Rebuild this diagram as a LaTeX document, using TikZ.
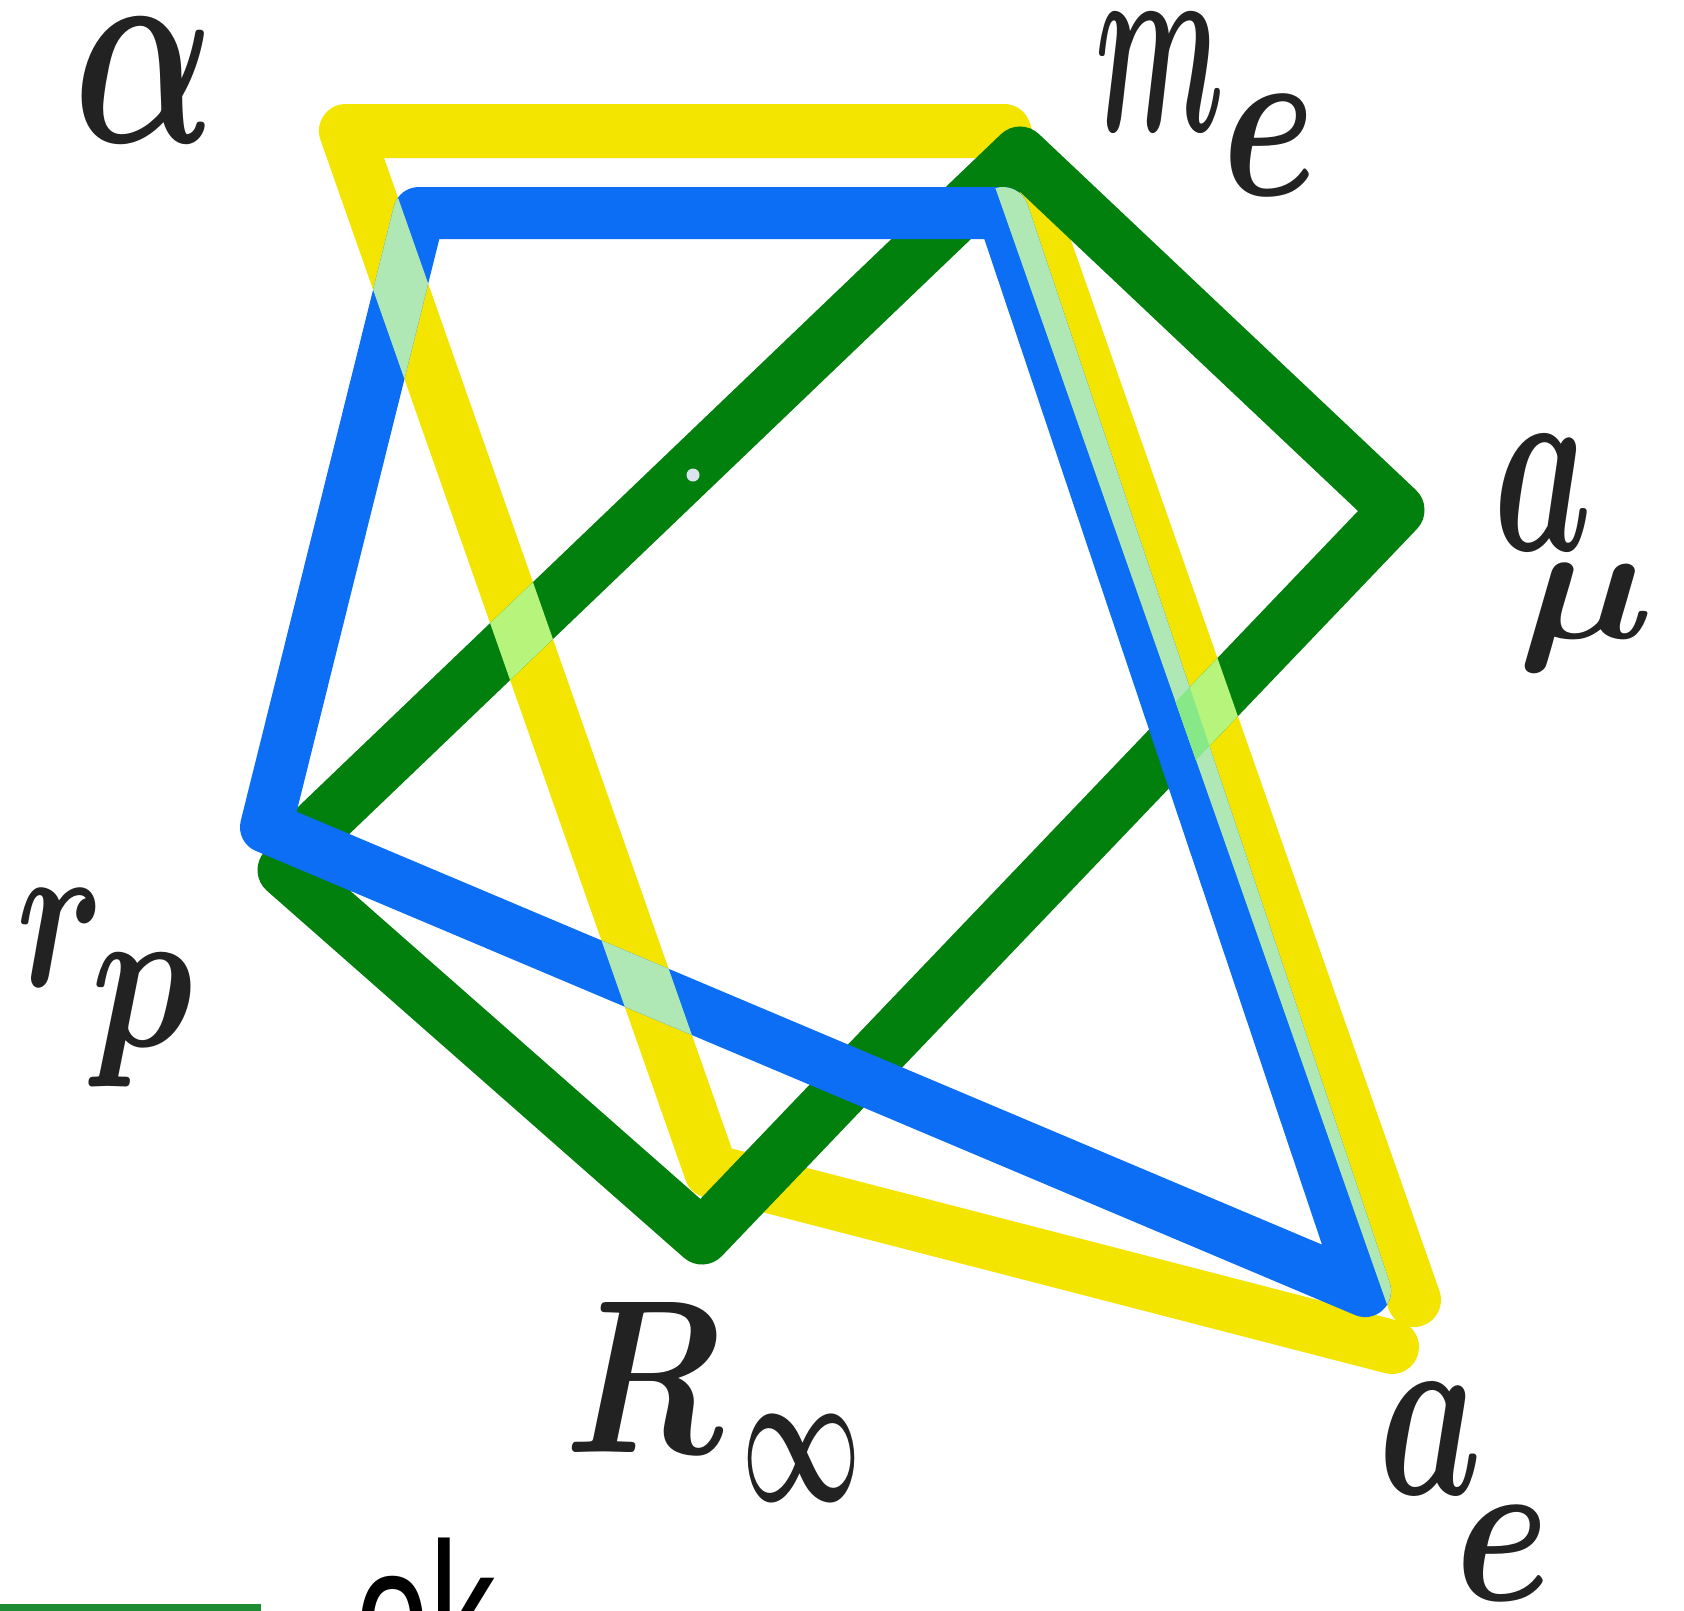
\documentclass[tikz,border=0pt]{standalone}
\usepackage{amsmath}
\usepackage{graphicx}
\usepackage{fontspec}
\usetikzlibrary{calc}
\newfontfamily\oksans{Liberation Sans}
\definecolor{hlyellow}{HTML}{F4E500}
\definecolor{hlblue}{HTML}{0B6EF4}
\definecolor{hlgreen}{HTML}{02800E}
\definecolor{mixyb}{HTML}{AFE8B4}
\definecolor{mixyg}{HTML}{B6F47C}
\definecolor{mixybg}{HTML}{86E886}
\definecolor{ink}{HTML}{222222}
\definecolor{okgreen}{HTML}{1E8C32}
\definecolor{dotgray}{HTML}{DCE2EE}
% clip to the body of the thick stroke from #1 to #2, half width #3
\newcommand{\clipseg}[3]{\clip ($(#1)!#3!90:(#2)$) -- ($(#2)!#3!-90:(#1)$) -- ($(#2)!#3!90:(#1)$) -- ($(#1)!#3!-90:(#2)$) -- cycle;}
\newcommand{\mixpatch}[6]{\begin{scope}\clipseg{#1}{#2}{#3}\draw[#6] (#4) -- (#5);\end{scope}}
\tikzset{
  hl/.style={line width=#1, line cap=round, line join=round},
  ylw/.style={hl=54pt, draw=hlyellow},
  blu/.style={hl=52pt, draw=hlblue},
  grn/.style={hl=55pt, draw=hlgreen},
  handlabel/.style={anchor=base west, inner sep=0pt, text=ink},
}
\begin{document}
\begin{tikzpicture}[x=1pt,y=-1pt]
\useasboundingbox (0,0) rectangle (1684,1610);
\fill[white] (0,0) rectangle (1684,1610);
% vertices
\coordinate (YTL) at (346,131);
\coordinate (YTR) at (1004,131);
\coordinate (YRe) at (1414,1300);
\coordinate (YBL) at (711,1171);
\coordinate (YBe) at (1392,1347);
\coordinate (BTL) at (419,213);
\coordinate (BTR) at (1003,213);
\coordinate (BBR) at (1365,1291);
\coordinate (BBL) at (266,827);
\coordinate (GT) at (1020,154);
\coordinate (GR) at (1397,510);
\coordinate (GB) at (702,1237);
\coordinate (GL1) at (297,846);
\coordinate (GL2) at (285,870);
% base strokes
\draw[ylw] (YRe) -- (YTR) -- (YTL) -- (YBL) -- (YBe);
\draw[grn] (GL1) -- (GT) -- (GR) -- (GB) -- (GL2);
\draw[blu] (BTL) -- (BTR) -- (BBR) -- (BBL) -- cycle;
% overlaps
\mixpatch{YTL}{YBL}{27pt}{GL1}{GT}{grn,draw=mixyg}
\mixpatch{YTL}{YBL}{27pt}{BTL}{BBL}{blu,draw=mixyb}
\mixpatch{YTL}{YBL}{27pt}{BBL}{BBR}{blu,draw=mixyb}
\mixpatch{YTR}{YRe}{27pt}{GR}{GB}{grn,draw=mixyg}
\mixpatch{YTR}{YRe}{27pt}{BTR}{BBR}{blu,draw=mixyb}
\begin{scope}
  \clipseg{YTR}{YRe}{27pt}
  \clipseg{BTR}{BBR}{26pt}
  \draw[grn,draw=mixybg] (GR) -- (GB);
\end{scope}
% dot
\coordinate (dot) at (693,475);
\fill[dotgray] (dot) circle (6.5pt);
% labels
\node[handlabel] (alpha) at (73,142) {\resizebox{142pt}{124pt}{$\boldsymbol{\alpha}$}};
\node[handlabel] (me) at (1095,131) {\resizebox{129pt}{118pt}{$\boldsymbol{m}$}\kern-2pt\raisebox{-64pt}{\resizebox{94pt}{100pt}{$\boldsymbol{e}$}}};
\node[handlabel] (amu) at (1493,550) {\resizebox{99pt}{115pt}{$\boldsymbol{a}$}\kern-75pt\raisebox{-88pt}{\resizebox*{137pt}{107pt}{$\boldsymbol{\mu}$}}};
\node[handlabel] (rp) at (16,986) {\resizebox{88pt}{97pt}{$\boldsymbol{r}$}\kern-13pt\raisebox{-60pt}{\resizebox*{102pt}{133pt}{$\boldsymbol{p}$}}};
\node[handlabel] (Rinf) at (564,1452) {\resizebox{158pt}{150pt}{$\boldsymbol{R}$}\kern19pt\raisebox{-49pt}{\resizebox{120pt}{86pt}{$\boldsymbol{\infty}$}}};
\node[handlabel] (ae) at (1378,1494) {\resizebox{104pt}{111pt}{$\boldsymbol{a}$}\kern-27pt\raisebox{-106pt}{\resizebox{95pt}{94pt}{$\boldsymbol{e}$}}};
% bottom fragment
\coordinate (gl0) at (0,1607);
\coordinate (gl1) at (261,1607);
\draw[okgreen, line width=7pt] (gl0) -- (gl1);
\node[anchor=base west, inner sep=0pt] (ok) at (355,1686) {\oksans\fontsize{205pt}{205pt}\selectfont\scalebox{0.65}[1]{ok}};
\end{tikzpicture}
\end{document}
